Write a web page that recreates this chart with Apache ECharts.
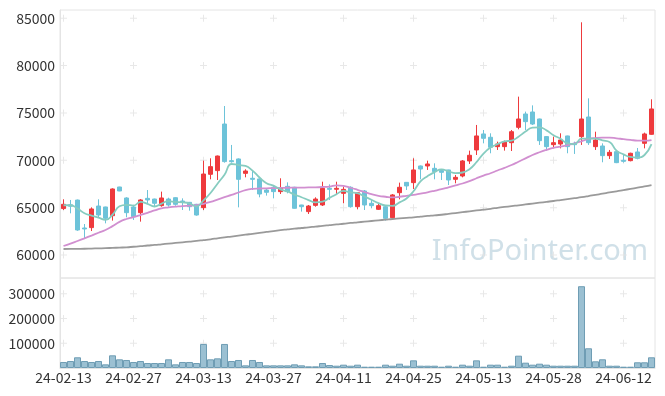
<!DOCTYPE html>
<html>
<head>
<meta charset="utf-8">
<script src="https://cdn.jsdelivr.net/npm/echarts/dist/echarts.min.js"></script>
<style>
html,body{margin:0;padding:0;background:#fff;}
#chart{width:665px;height:396px;}
</style>
</head>
<body>
<div id="chart"></div>
<script>
var dates = ['24-02-13','24-02-14','24-02-15','24-02-16','24-02-19','24-02-20','24-02-21','24-02-22','24-02-23','24-02-26',
'24-02-27','24-02-28','24-02-29','24-03-04','24-03-05','24-03-06','24-03-07','24-03-08','24-03-11','24-03-12',
'24-03-13','24-03-14','24-03-15','24-03-18','24-03-19','24-03-20','24-03-21','24-03-22','24-03-25','24-03-26',
'24-03-27','24-03-28','24-03-29','24-04-01','24-04-02','24-04-03','24-04-04','24-04-05','24-04-08','24-04-09',
'24-04-11','24-04-12','24-04-15','24-04-16','24-04-17','24-04-18','24-04-19','24-04-22','24-04-23','24-04-24',
'24-04-25','24-04-26','24-04-29','24-04-30','24-05-02','24-05-03','24-05-07','24-05-08','24-05-09','24-05-10',
'24-05-13','24-05-14','24-05-16','24-05-17','24-05-20','24-05-21','24-05-22','24-05-23','24-05-24','24-05-27',
'24-05-28','24-05-29','24-05-30','24-05-31','24-06-03','24-06-04','24-06-05','24-06-07','24-06-10','24-06-11',
'24-06-12','24-06-13','24-06-14','24-06-17','24-06-18'];

// [open, close, low, high]
var ohlc = [
[64900,65350,64750,65880],[65300,65150,64400,65810],[65800,62640,62550,65850],[62850,62750,61760,63270],[62890,64860,62530,65030],
[65170,64220,63980,65880],[65070,63870,63340,65100],[64150,66970,63630,67040],[67180,66760,66740,67200],[66020,64470,63980,66100],
[65070,64050,63700,65280],[64470,65810,63520,65910],[65980,65810,65460,66860],[65910,65460,65100,65950],[65210,66020,65100,66690],
[65910,65280,65100,66050],[66050,65350,65200,66100],[65700,65560,64750,65980],[65560,65100,64680,65600],[65350,64220,64150,65400],
[65000,68550,64750,69960],[68520,69330,67990,70210],[68910,70450,67920,70500],[73830,69860,69750,75730],[69960,69850,69750,71620],
[70140,67990,65030,70200],[68620,68870,68200,69050],[68100,67990,66860,68980],[68030,66440,66090,68050],[66860,66620,66270,67040],
[67150,66690,65980,67390],[66690,67110,66440,68100],[67250,66690,66510,67670],[67150,64930,64900,67200],[65280,65100,64580,65300],
[64580,65170,64330,65280],[65240,65910,65100,66090],[65280,67040,65170,67740],[67040,66930,65810,67460],[66940,67040,66330,67740],
[66510,66930,65460,67220],[67150,65100,65000,67250],[65100,66580,64820,66650],[66760,65280,64750,66860],[65460,65210,64930,65810],
[64820,65210,64750,65460],[65100,63870,63630,65280],[63940,66340,63900,66440],[66580,67150,65880,67640],[67670,67290,66860,67700],
[67640,68980,66970,70210],[69400,69080,67990,69450],[69400,69610,68980,69960],[69150,68800,67990,69680],[68910,68730,67920,69050],
[68980,67920,67390,69000],[67990,68200,67570,68450],[68340,69930,68200,70030],[69930,70530,69610,71020],[71090,72570,70560,73730],
[72780,72320,71790,73200],[72430,71370,70740,72850],[71440,71720,71090,71970],[71440,71970,71020,72080],[71860,73020,70980,73200],
[73480,74360,73270,76720],[74890,74080,73200,75140],[75100,73830,73730,75800],[74360,72070,71620,74400],[72500,71440,71020,72550],
[71650,71860,71260,72500],[71720,72140,71260,72850],[72570,71440,70740,72600],[71790,71650,70670,71970],[72500,74360,71620,84570],
[74570,71860,71620,76540],[71440,72140,71090,73020],[71510,70490,69790,71790],[70490,70840,70140,71090],[70910,69750,69700,70950],
[70000,69890,69750,70600],[69960,70740,69890,70800],[70880,70210,70100,71300],[71790,72780,71260,72920],[72740,75420,72700,76440]
];

var volume = [
24300,28300,43300,28300,24300,28300,14800,51300,35100,32400,
24300,28300,20200,20200,20200,35100,14800,24300,24300,20200,
97200,35100,39100,97200,28300,32400,10800,32400,24300,10800,
10800,10800,10800,14800,10800,6700,6700,20200,12000,9300,
13400,9300,13400,5300,5300,5300,13400,9300,17500,9300,
31000,9300,9300,9300,5300,9300,5300,13400,9300,31000,
5300,13400,13400,5300,9300,49800,21500,13400,17500,13400,
9300,9300,9300,9300,330800,79800,27100,35200,9300,9300,
5300,5300,23100,23100,43300
];

var ma5 = [
65250,65250,64900,64400,64150,63950,63700,64250,65150,65300,
65220,65600,65400,65120,65430,65680,65590,65560,65460,65120,
65760,66550,67530,68480,69610,69500,69400,68910,68180,67580,
67320,66920,66710,66380,66100,65800,65560,65630,66030,66420,
66770,66610,66520,66180,65830,65480,65230,65180,65560,65970,
66730,67770,68320,68750,69040,68830,68650,68710,69060,69800,
70710,71340,71700,71990,72080,72490,73030,73450,73480,73160,
72650,72270,71790,71710,72290,72290,72290,72100,71940,71020,
70630,70350,70290,70560,71700
];

var ma20 = [
60950,61200,61480,61760,62050,62350,62640,63050,63500,63800,
64000,64220,64450,64700,64930,65020,65100,65170,65210,65260,
65400,65600,65850,66100,66340,66600,66850,66980,67020,67040,
67060,67080,67100,67110,67120,67130,67150,67180,67220,67350,
67300,67100,66880,66650,66420,66250,66150,66080,66150,66250,
66340,66480,66620,66780,66950,67150,67350,67550,67800,68100,
68380,68630,68920,69200,69500,69850,70200,70560,70850,71100,
71320,71440,71600,71780,72000,72250,72350,72390,72390,72320,
72230,72150,72080,72070,72140
];

var ma60 = [
60630,60640,60650,60660,60680,60700,60720,60750,60780,60810,
60870,60930,61000,61060,61130,61200,61270,61340,61410,61480,
61570,61660,61760,61860,61950,62050,62140,62240,62330,62430,
62530,62620,62700,62780,62850,62920,63000,63070,63150,63230,
63300,63380,63450,63520,63590,63660,63730,63800,63860,63920,
63980,64050,64120,64180,64250,64340,64430,64520,64610,64700,
64790,64880,64980,65080,65170,65250,65340,65430,65520,65610,
65700,65800,65900,66000,66100,66220,66350,66470,66600,66720,
66850,66980,67110,67240,67390
];

var priceTicks = [60000,65000,70000,75000,80000,85000];
var volumeTicks = [100000,200000,300000];
var labelIdx = [0,10,20,30,40,50,60,70,80];

var crossMain = [];
labelIdx.forEach(function(i){ priceTicks.forEach(function(v){ crossMain.push([i, v]); }); });
var crossVol = [];
labelIdx.forEach(function(i){ volumeTicks.forEach(function(v){ crossVol.push([i, v]); }); });

var plusSym = 'path://M3,0L4,0L4,3L7,3L7,4L4,4L4,7L3,7L3,4L0,4L0,3L3,3Z';
var FONT = 'Noto Sans CJK KR';
var UP = '#ee3a3d', DOWN = '#6dc3d9';
function plain(v){ return String(v); }

var chart = echarts.init(document.getElementById('chart'), null, {renderer:'canvas'});
chart.setOption({
  animation: false,
  backgroundColor: '#fff',
  textStyle: {fontFamily: FONT},
  grid: [
    {left: 60, right: 10, top: 10, height: 268, show: true, borderColor: '#e4e4e4', borderWidth: 1},
    {left: 60, right: 10, top: 278, height: 90, show: true, borderColor: '#e4e4e4', borderWidth: 1}
  ],
  graphic: [{
    type: 'text', right: 17, top: 237, z: 0, silent: true,
    style: {text: 'InfoPointer.com', fontSize: 29, fontFamily: 'Noto Sans', fill: '#d0e0e8'}
  }],
  xAxis: [
    {type: 'category', gridIndex: 0, data: dates, boundaryGap: true,
     axisLine: {show: false}, axisTick: {show: false}, axisLabel: {show: false}, splitLine: {show: false}},
    {type: 'category', gridIndex: 1, data: dates, boundaryGap: true,
     axisLine: {show: true, lineStyle: {color: '#e4e4e4'}}, axisTick: {show: false},
     axisLabel: {interval: 9, color: '#333', fontSize: 14, fontFamily: FONT, margin: 3},
     splitLine: {show: false}}
  ],
  yAxis: [
    {type: 'value', gridIndex: 0, min: 57570, max: 85870, scale: true,
     axisLine: {show: true, lineStyle: {color: '#e4e4e4'}}, axisTick: {show: false},
     axisLabel: {customValues: priceTicks, formatter: plain, color: '#333', fontSize: 14, fontFamily: FONT, margin: 5},
     splitLine: {show: false}},
    {type: 'value', gridIndex: 1, min: 0, max: 364000,
     axisLine: {show: true, lineStyle: {color: '#e4e4e4'}}, axisTick: {show: false},
     axisLabel: {customValues: volumeTicks, formatter: plain, color: '#333', fontSize: 14, fontFamily: FONT, margin: 5},
     splitLine: {show: false}}
  ],
  series: [
    {type: 'scatter', xAxisIndex: 0, yAxisIndex: 0, data: crossMain, symbol: plusSym, symbolSize: 7,
     itemStyle: {color: '#e2e2e2'}, silent: true, z: 1},
    {type: 'scatter', xAxisIndex: 1, yAxisIndex: 1, data: crossVol, symbol: plusSym, symbolSize: 7,
     itemStyle: {color: '#e2e2e2'}, silent: true, z: 1},
    {type: 'candlestick', xAxisIndex: 0, yAxisIndex: 0, data: ohlc, barWidth: 5, z: 3,
     itemStyle: {color: UP, color0: DOWN, borderColor: UP, borderColor0: DOWN, borderColorDoji: UP, borderWidth: 1}},
    {type: 'line', xAxisIndex: 0, yAxisIndex: 0, data: ma60, smooth: true, showSymbol: false, z: 4,
     lineStyle: {color: '#9a9a9a', width: 1.8}},
    {type: 'line', xAxisIndex: 0, yAxisIndex: 0, data: ma20, smooth: true, showSymbol: false, z: 4,
     lineStyle: {color: '#d18fd0', width: 1.8}},
    {type: 'line', xAxisIndex: 0, yAxisIndex: 0, data: ma5, smooth: true, showSymbol: false, z: 4,
     lineStyle: {color: '#86ccc0', width: 1.8}},
    {type: 'bar', xAxisIndex: 1, yAxisIndex: 1, data: volume, barCategoryGap: '0%', z: 3,
     itemStyle: {color: '#9bc0d2', borderColor: '#6f9db4', borderWidth: 1}}
  ]
});
</script>
</body>
</html>
